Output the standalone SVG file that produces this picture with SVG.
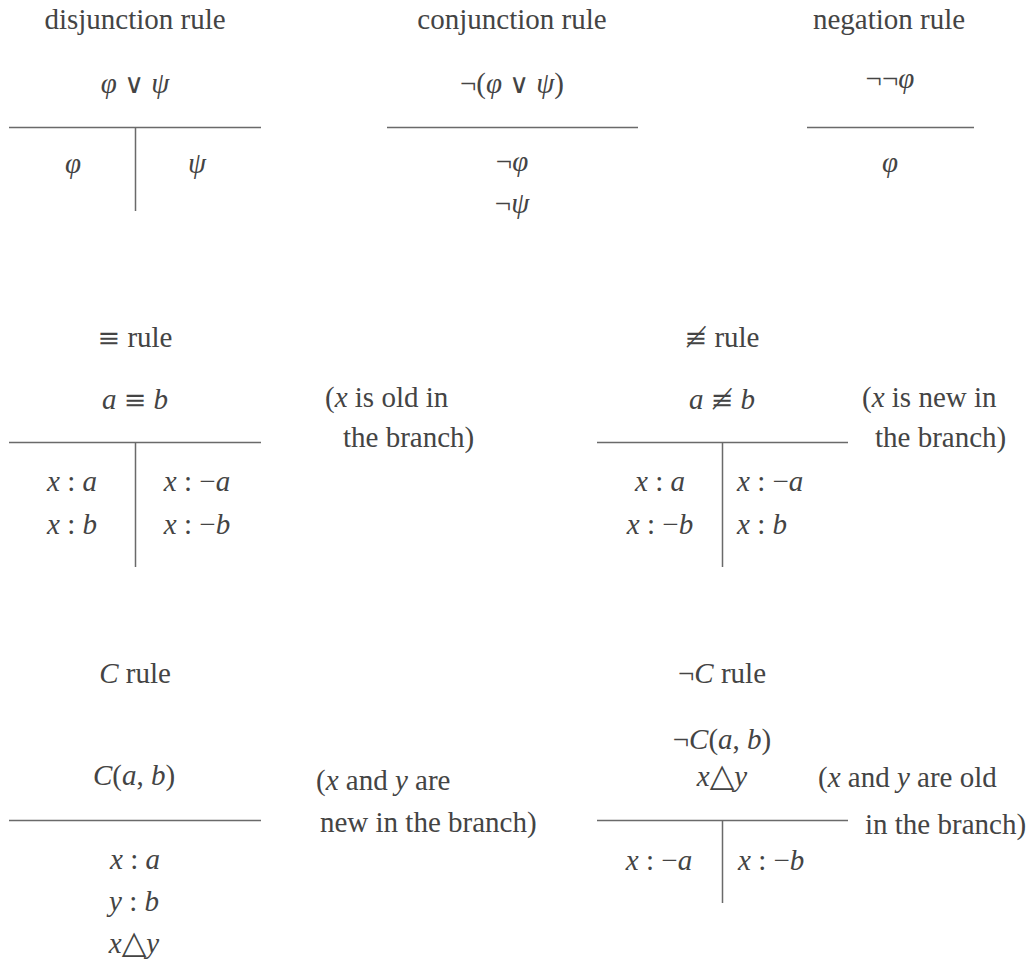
<svg xmlns="http://www.w3.org/2000/svg" width="1034" height="960" viewBox="0 0 1034 960" font-family="'Liberation Serif', 'Times New Roman', 'DejaVu Serif', serif">
<style>
text{font-family:'Liberation Serif','Times New Roman','DejaVu Serif',serif;font-size:29px;fill:#444}
.c{text-anchor:middle}
.i{font-style:italic}
.sym{font-family:'DejaVu Serif',serif;font-size:27px}
.tri{font-family:'DejaVu Sans',sans-serif;font-size:32px}
.ln{stroke:#6a6a6a;stroke-width:1.5;fill:none}
</style>
<rect width="1034" height="960" fill="#fff"/>
<g id="disjunction">
<text class="c" x="135" y="29">disjunction rule</text>
<text class="c" x="135" y="93"><tspan class="i">φ</tspan> <tspan class="sym">∨</tspan> <tspan class="i">ψ</tspan></text>
<text class="c i" x="73" y="173">φ</text>
<text class="c i" x="197" y="173">ψ</text>
</g>
<g id="conjunction">
<text class="c" x="512" y="29">conjunction rule</text>
<text class="c" x="512" y="93">¬(<tspan class="i">φ</tspan> <tspan class="sym">∨</tspan> <tspan class="i">ψ</tspan>)</text>
<text class="c" x="512" y="171">¬<tspan class="i">φ</tspan></text>
<text class="c" x="512" y="213">¬<tspan class="i">ψ</tspan></text>
</g>
<g id="negation">
<text class="c" x="889" y="29">negation rule</text>
<text class="c" x="890" y="88">¬¬<tspan class="i">φ</tspan></text>
<text class="c i" x="890" y="172">φ</text>
</g>
<g id="equiv">
<text class="c" x="135" y="347"><tspan class="sym">≡</tspan> rule</text>
<text class="c" x="135" y="409"><tspan class="i">a</tspan> <tspan class="sym">≡</tspan> <tspan class="i">b</tspan></text>
<text class="c" x="72" y="491"><tspan class="i">x</tspan> : <tspan class="i">a</tspan></text>
<text class="c" x="72" y="534"><tspan class="i">x</tspan> : <tspan class="i">b</tspan></text>
<text class="c" x="197" y="491"><tspan class="i">x</tspan> : −<tspan class="i">a</tspan></text>
<text class="c" x="197" y="534"><tspan class="i">x</tspan> : −<tspan class="i">b</tspan></text>
<text x="325" y="407">(<tspan class="i">x</tspan> is old in</text>
<text x="343" y="447">the branch)</text>
</g>
<g id="nequiv">
<text class="c" x="722" y="347"><tspan class="sym">≢</tspan> rule</text>
<text class="c" x="722" y="409"><tspan class="i">a</tspan> <tspan class="sym">≢</tspan> <tspan class="i">b</tspan></text>
<text class="c" x="660" y="491"><tspan class="i">x</tspan> : <tspan class="i">a</tspan></text>
<text class="c" x="660" y="534"><tspan class="i">x</tspan> : −<tspan class="i">b</tspan></text>
<text x="737" y="491"><tspan class="i">x</tspan> : −<tspan class="i">a</tspan></text>
<text x="737" y="534"><tspan class="i">x</tspan> : <tspan class="i">b</tspan></text>
<text x="862" y="407">(<tspan class="i">x</tspan> is new in</text>
<text x="875" y="447">the branch)</text>
</g>
<g id="crule">
<text class="c" x="135" y="683"><tspan class="i">C</tspan> rule</text>
<text class="c" x="134" y="785"><tspan class="i">C</tspan>(<tspan class="i">a</tspan>, <tspan class="i">b</tspan>)</text>
<text class="c" x="135" y="869"><tspan class="i">x</tspan> : <tspan class="i">a</tspan></text>
<text class="c" x="134" y="911"><tspan class="i">y</tspan> : <tspan class="i">b</tspan></text>
<text class="c" x="134" y="953"><tspan class="i">x</tspan><tspan class="tri">△</tspan><tspan class="i">y</tspan></text>
<text x="316" y="790">(<tspan class="i">x</tspan> and <tspan class="i">y</tspan> are</text>
<text x="320" y="832">new in the branch)</text>
</g>
<g id="notcrule">
<text class="c" x="722" y="683">¬<tspan class="i">C</tspan> rule</text>
<text class="c" x="722" y="749">¬<tspan class="i">C</tspan>(<tspan class="i">a</tspan>, <tspan class="i">b</tspan>)</text>
<text class="c" x="722" y="786"><tspan class="i">x</tspan><tspan class="tri">△</tspan><tspan class="i">y</tspan></text>
<text class="c" x="659" y="870"><tspan class="i">x</tspan> : −<tspan class="i">a</tspan></text>
<text x="738" y="870"><tspan class="i">x</tspan> : −<tspan class="i">b</tspan></text>
<text x="818" y="787">(<tspan class="i">x</tspan> and <tspan class="i">y</tspan> are old</text>
<text x="865" y="834">in the branch)</text>
</g>
<g id="connectors">
<path class="ln" d="M9 127.5H261M135.5 127.5V211"/>
<path class="ln" d="M387 127.5H638"/>
<path class="ln" d="M807 127.5H974"/>
<path class="ln" d="M9 442.5H261M135.5 442.5V567"/>
<path class="ln" d="M597 442.5H848M722.5 442.5V567"/>
<path class="ln" d="M9 820.5H261"/>
<path class="ln" d="M597 820.5H848M722.5 820.5V903"/>
</g>
</svg>
